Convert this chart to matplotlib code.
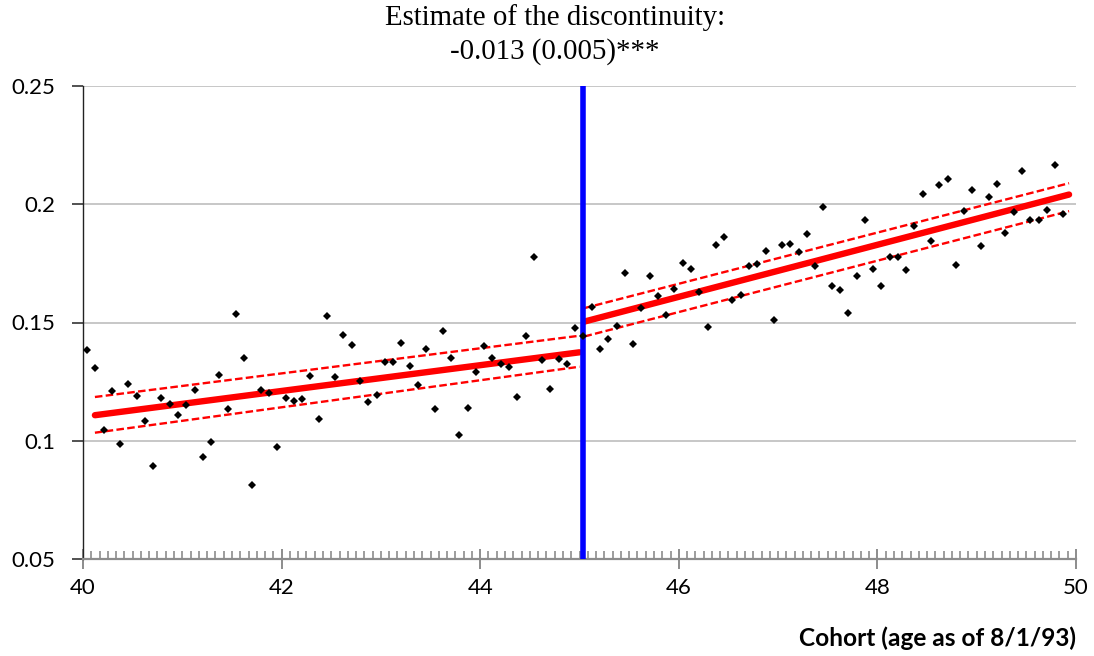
import numpy as np
import matplotlib
matplotlib.use("Agg")
import matplotlib.pyplot as plt
from matplotlib.ticker import MultipleLocator

# ---- data -------------------------------------------------------------
# monthly cohorts (age as of 8/1/93), evenly spaced from 40.04
cohort_start = 40.04
n_points = 119
cohort = cohort_start + np.arange(n_points) / 12.0

rate_left = [0.1385, 0.1309, 0.1047, 0.1210, 0.0985, 0.1242, 0.1189, 0.1085,
             0.0892, 0.1181, 0.1155, 0.1107, 0.1152, 0.1213, 0.0933, 0.0993,
             0.1280, 0.1136, 0.1535, 0.1352, 0.0813, 0.1216, 0.1204, 0.0974,
             0.1181, 0.1169, 0.1177, 0.1272, 0.1093, 0.1527, 0.1268, 0.1449,
             0.1405, 0.1253, 0.1162, 0.1193, 0.1333, 0.1333, 0.1413, 0.1318,
             0.1236, 0.1386, 0.1134, 0.1462, 0.1348, 0.1026, 0.1137, 0.1289,
             0.1402, 0.1348, 0.1323, 0.1312, 0.1183, 0.1444, 0.1779, 0.1341,
             0.1220, 0.1344, 0.1323, 0.1478]
rate_right = [0.1444, 0.1565, 0.1390, 0.1430, 0.1486, 0.1709, 0.1409, 0.1562,
              0.1697, 0.1611, 0.1533, 0.1641, 0.1753, 0.1727, 0.1630, 0.1479,
              0.1827, 0.1861, 0.1595, 0.1617, 0.1739, 0.1749, 0.1803, 0.1510,
              0.1828, 0.1832, 0.1797, 0.1873, 0.1738, 0.1989, 0.1655, 0.1639,
              0.1540, 0.1696, 0.1932, 0.1726, 0.1655, 0.1777, 0.1776, 0.1724,
              0.1910, 0.2045, 0.1844, 0.2082, 0.2108, 0.1742, 0.1970, 0.2059,
              0.1825, 0.2032, 0.2087, 0.1880, 0.1966, 0.2141, 0.1934, 0.1932,
              0.1975, 0.2165, 0.1959]
rate = rate_left + rate_right

cutoff = 45.04

# fitted lines (endpoints) and 95% bands
fit_left_x = [40.12, 45.0]
fit_left_y = [0.1108, 0.1374]
fit_left_hi = [0.1185, 0.1444]
fit_left_lo = [0.1034, 0.1313]
fit_right_x = [45.05, 49.93]
fit_right_y = [0.1504, 0.2041]
fit_right_hi = [0.1561, 0.2089]
fit_right_lo = [0.1441, 0.1971]

title_lines = ["Estimate of the discontinuity:", "-0.013 (0.005)***"]
xlabel = "Cohort (age as of 8/1/93)"
xticks = [40, 42, 44, 46, 48, 50]
yticks = [0.05, 0.1, 0.15, 0.2, 0.25]
ytick_labels = ["0.05", "0.1", "0.15", "0.2", "0.25"]

# ---- figure -----------------------------------------------------------
fig = plt.figure(figsize=(10.94, 6.56), dpi=100)
ax = fig.add_axes([83 / 1094, 1 - 559 / 656, (1076 - 83) / 1094, (559 - 86) / 656])

ax.set_xlim(40, 50)
ax.set_ylim(0.05, 0.25)

for yv in yticks[1:]:
    ax.axhline(yv, color="#bdbdbd", lw=1.2, zorder=1)

red = "#ff0000"
dash = (3.2, 1.4)
for xs, ys, hi, lo in [(fit_left_x, fit_left_y, fit_left_hi, fit_left_lo),
                       (fit_right_x, fit_right_y, fit_right_hi, fit_right_lo)]:
    ax.plot(xs, ys, color=red, lw=4.6, solid_capstyle="round", zorder=3)
    ax.plot(xs, hi, color=red, lw=1.7, dashes=dash, zorder=3)
    ax.plot(xs, lo, color=red, lw=1.7, dashes=dash, zorder=3)

ax.axvline(cutoff, color="#0000ff", lw=4, zorder=4)

ax.plot(cohort, rate, linestyle="none", marker="D", ms=3.6, color="black",
        markeredgewidth=0, zorder=5)

# spines and ticks
for s in ["top", "right"]:
    ax.spines[s].set_visible(False)
ax.spines["left"].set_color("#222222")
ax.spines["left"].set_linewidth(1.0)
ax.spines["bottom"].set_color("#8c8c8c")
ax.spines["bottom"].set_linewidth(1.6)
ax.spines["left"].set_zorder(2)
ax.spines["bottom"].set_zorder(2)

ax.set_xticks(xticks)
ax.set_xticklabels([str(t) for t in xticks])
ax.xaxis.set_minor_locator(MultipleLocator(1 / 12))
ax.set_yticks(yticks)
ax.set_yticklabels(ytick_labels)

tick_font = "Lato"
ax.tick_params(axis="x", which="major", direction="inout", length=14, width=1.4,
               color="#8c8c8c", pad=7, labelsize=16)
ax.tick_params(axis="x", which="minor", direction="in", length=6, width=1.2,
               color="#8c8c8c")
ax.tick_params(axis="y", which="major", direction="out", length=8, width=1.2,
               color="#333333", pad=12, labelsize=16)
for lab in ax.get_xticklabels() + ax.get_yticklabels():
    lab.set_fontfamily(tick_font)

fig.text(1076 / 1094, 1 - 638 / 656, xlabel, ha="right", va="center",
         fontsize=17.6, fontweight="bold", family=tick_font)

fig.text(555 / 1094, 1 - 18 / 656, title_lines[0], ha="center", va="center",
         fontsize=20.8, family="Liberation Serif")
fig.text(555 / 1094, 1 - 52 / 656, title_lines[1], ha="center", va="center",
         fontsize=20.8, family="Liberation Serif")

fig.savefig("out.png", dpi=100)
